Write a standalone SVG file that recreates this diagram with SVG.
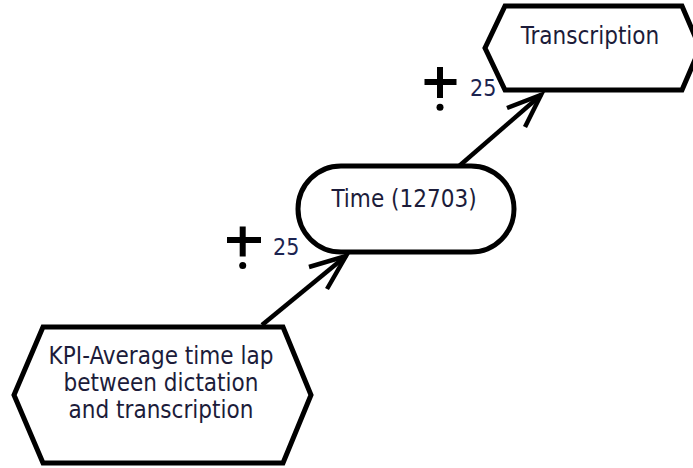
<svg xmlns="http://www.w3.org/2000/svg" width="693" height="468" viewBox="0 0 693 468">
<style>
.shape{fill:#ffffff;stroke:#000000;stroke-width:5;stroke-linejoin:miter}
.lbl{font-family:"DejaVu Sans Condensed","DejaVu Sans",sans-serif;font-stretch:condensed;font-size:24px;fill:#1c1c3a;text-anchor:middle}
.num{font-family:"DejaVu Sans Condensed","DejaVu Sans",sans-serif;font-stretch:condensed;font-size:23px;fill:#1c2450}
.conn{fill:none;stroke:#000000;stroke-width:4.5;stroke-linecap:butt;stroke-linejoin:miter}
.plus{fill:#000000}
</style>
<rect width="693" height="468" fill="#ffffff"/>
<g id="connectors">
<g id="c1">
<path class="conn" d="M262,325 L346,256"/>
<path class="conn" d="M309,267 L346,256 L327,289"/>
<rect class="plus" x="227" y="237" width="34" height="6"/>
<rect class="plus" x="239.7" y="226.5" width="6" height="30"/>
<circle class="plus" cx="242.7" cy="265.5" r="3.5"/>
<text class="num" x="273" y="254.5">25</text>
</g>
<g id="c2">
<path class="conn" d="M458,167 L541,95"/>
<path class="conn" d="M507,108 L541,95 L525,127"/>
<rect class="plus" x="424.5" y="79" width="32" height="6"/>
<rect class="plus" x="437" y="67" width="6" height="31"/>
<circle class="plus" cx="440" cy="107.3" r="3.5"/>
<text class="num" x="470" y="96">25</text>
</g>
</g>
<g id="node-kpi">
<polygon class="shape" points="43,327 283,327 311,395 283,463 43,463 14,395"/>
<text class="lbl" x="161" y="364">KPI-Average time lap</text>
<text class="lbl" x="161" y="391">between dictation</text>
<text class="lbl" x="161" y="418">and transcription</text>
</g>
<g id="node-time">
<rect class="shape" x="298" y="166" width="216" height="86" rx="43" ry="43"/>
<text class="lbl" x="404" y="207">Time (12703)</text>
</g>
<g id="node-transcription">
<polygon class="shape" points="505,6 682,6 700,48 682,90 505,90 485,48"/>
<text class="lbl" x="590" y="44">Transcription</text>
</g>
</svg>
